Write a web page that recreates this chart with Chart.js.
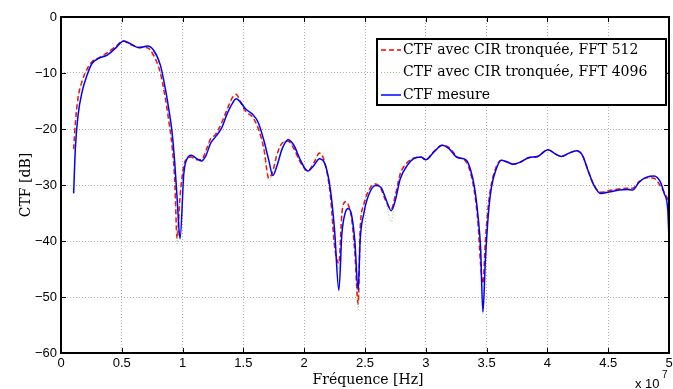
<!DOCTYPE html>
<html>
<head>
<meta charset="utf-8">
<script src="https://cdn.jsdelivr.net/npm/chart.js@4.4.0/dist/chart.umd.min.js"></script>
<style>
html, body { margin: 0; padding: 0; background: #fff; }
canvas { display: block; }
</style>
</head>
<body>
<canvas id="myChart" width="673" height="389"></canvas>
<script>
// frequences en unites de 10^7 Hz
var freqE7 = [0.104, 0.118, 0.14, 0.173, 0.214, 0.255, 0.31, 0.38, 0.447, 0.515,
    0.57, 0.64, 0.71, 0.76, 0.817, 0.858, 0.886, 0.913, 0.935, 0.955,
    0.979, 1.01, 1.037, 1.072, 1.11, 1.155, 1.193, 1.229, 1.27, 1.319,
    1.366, 1.407, 1.44, 1.476, 1.517, 1.572, 1.62, 1.668, 1.709, 1.742,
    1.777, 1.819, 1.868, 1.915, 1.97, 2.03, 2.08, 2.126, 2.175, 2.216,
    2.25, 2.285, 2.31, 2.34, 2.362, 2.39, 2.416, 2.444, 2.46, 2.49,
    2.53, 2.587, 2.63, 2.67, 2.716, 2.75, 2.79, 2.848, 2.9, 2.96,
    3.0, 3.067, 3.136, 3.19, 3.26, 3.33, 3.37, 3.404, 3.43, 3.45,
    3.47, 3.49, 3.515, 3.54, 3.575, 3.62, 3.67, 3.717, 3.78, 3.85,
    3.92, 4.005, 4.068, 4.115, 4.178, 4.24, 4.288, 4.334, 4.383, 4.438,
    4.507, 4.59, 4.658, 4.7, 4.754, 4.817, 4.877, 4.93, 4.96, 4.99, 5.0];

var ctfMesure = [-31.5, -23.5, -17.6, -13.4, -10.4, -8.3, -7.4, -6.8, -5.6, -4.3,
    -4.75, -5.5, -5.2, -5.9, -8.6, -12.8, -16.4, -20.5, -25.9, -32.4,
    -39.6, -28, -25.3, -24.7, -25.2, -25.7, -24.7, -22.6, -21.4, -19.9,
    -17.3, -15.5, -14.6, -15.2, -16.4, -17.3, -18.75, -22, -25.6, -28.3,
    -26.5, -23.5, -21.9, -22.9, -25.6, -27.5, -26.5, -25.3, -26.5, -30.9,
    -38.1, -48.8, -38.7, -34.8, -34.2, -35.4, -39.9, -48.8, -39.9, -35.1,
    -31.8, -30.1, -30.4, -32.4, -34.6, -32.7, -28.9, -26.5, -25.3, -25.0,
    -25.5, -24.1, -22.9, -23.5, -25.1, -25.5, -27.4, -30.9, -35.7, -41,
    -52.7, -43.4, -35.1, -30.4, -27.4, -25.6, -25.9, -26.3, -25.9, -25.1,
    -24.9, -23.7, -24.5, -24.9, -24.3, -23.9, -24.7, -27.4, -30.05, -31.5,
    -31.25, -30.9, -30.8, -30.9, -29.5, -28.6, -28.4, -29.5, -31.5, -34.5, -39.9];

var ctfFft512 = [-23.6, -19, -14.5, -11.5, -9.3, -8.0, -7.3, -6.4, -5.3, -4.3,
    -4.9, -5.4, -5.5, -6.8, -10, -14.5, -18.5, -23, -29, -39.5,
    -32, -26.5, -25.3, -25.0, -25.5, -25.5, -23.8, -21.8, -21.0, -19.0,
    -16.5, -14.5, -13.8, -15.2, -16.8, -17.8, -19.8, -23.5, -28.8, -27.5,
    -24.5, -22.5, -22.2, -23.5, -26, -27.5, -26, -24.3, -26.5, -32,
    -41, -44, -35, -33, -33.5, -36, -42, -51.2, -38, -33.5,
    -31, -29.8, -30.6, -32.8, -34.3, -31.8, -28, -26, -25.2, -25.0,
    -25.5, -24, -22.9, -23.3, -25.0, -25.8, -28, -31.8, -37, -44,
    -47.6, -40, -33.5, -29.8, -27, -25.6, -25.9, -26.3, -25.9, -25.1,
    -24.9, -23.7, -24.5, -24.9, -24.3, -23.9, -24.7, -27.4, -30.05, -31.3,
    -31.0, -30.7, -30.6, -30.6, -29.4, -28.7, -28.8, -30.2, -31.3, -32.5, -33];

var ctfFft4096 = [-23.6, -19, -14.5, -11.5, -9.3, -8.0, -7.3, -6.4, -5.3, -4.3,
    -4.9, -5.4, -5.5, -6.8, -10, -14.5, -18.5, -23, -29, -40.5,
    -32, -26.5, -25.3, -25.0, -25.5, -25.5, -23.8, -21.8, -21.0, -19.0,
    -16.5, -14.5, -13.8, -15.2, -16.8, -17.8, -19.8, -23.5, -29.2, -27.5,
    -24.5, -22.5, -22.2, -23.5, -26, -27.5, -26, -24.3, -26.5, -32,
    -41, -45, -35, -33, -33.5, -36, -42, -52.3, -38, -33.5,
    -31, -29.8, -30.6, -32.8, -36.6, -31.8, -28, -26, -25.2, -25.0,
    -25.5, -24, -22.9, -23.3, -25.0, -25.8, -28, -31.8, -37, -44,
    -53, -40, -33.5, -29.8, -27, -25.6, -25.9, -26.3, -25.9, -25.1,
    -24.9, -23.7, -24.5, -24.9, -24.3, -23.9, -24.7, -27.4, -30.05, -31.3,
    -31.0, -30.7, -30.6, -30.6, -29.4, -28.7, -28.8, -30.2, -31.3, -32.5, -33];

var serieLabels = ['CTF avec CIR tronquée, FFT 512', 'CTF avec CIR tronquée, FFT 4096', 'CTF mesure'];
var yTitle = 'CTF [dB]';
var xTitle = 'Fréquence [Hz]';

function toPoints(vals) {
    return freqE7.map(function (f, i) { return { x: f, y: vals[i] }; });
}

var decor = {
    id: 'decor',
    beforeDraw: function (chart) {
        var c = chart.ctx;
        c.save();
        c.fillStyle = '#fff';
        c.fillRect(0, 0, chart.width, chart.height);
        c.restore();
    },
    afterDatasetsDraw: function (chart) {
        var c = chart.ctx, a = chart.chartArea;
        var sx = chart.scales.x, sy = chart.scales.y;
        c.save();
        c.strokeStyle = '#000';
        c.lineWidth = 1;
        // petits traits vers l'interieur
        sx.ticks.forEach(function (t) {
            var px = Math.round(sx.getPixelForValue(t.value)) + 0.5;
            c.beginPath();
            c.moveTo(px, a.bottom); c.lineTo(px, a.bottom - 5);
            c.moveTo(px, a.top); c.lineTo(px, a.top + 5);
            c.stroke();
        });
        sy.ticks.forEach(function (t) {
            var py = Math.round(sy.getPixelForValue(t.value)) + 0.5;
            c.beginPath();
            c.moveTo(a.left, py); c.lineTo(a.left + 5, py);
            c.moveTo(a.right, py); c.lineTo(a.right - 5, py);
            c.stroke();
        });
        c.lineWidth = 2;
        c.strokeRect(a.left, a.top, a.right - a.left, a.bottom - a.top);
        c.restore();
    },
    afterDraw: function (chart) {
        var c = chart.ctx, a = chart.chartArea;
        c.save();
        c.fillStyle = '#000';
        c.font = '14px "DejaVu Serif", "Liberation Serif", serif';
        c.textAlign = 'center';
        c.textBaseline = 'middle';
        c.fillText(xTitle, (a.left + a.right) / 2 + 3, 380);
        c.save();
        c.translate(26, (a.top + a.bottom) / 2);
        c.rotate(-Math.PI / 2);
        c.fillText(yTitle, 0, 0);
        c.restore();

        // exposant
        c.font = '13px "Liberation Sans", Arial, sans-serif';
        c.textAlign = 'left';
        c.textBaseline = 'alphabetic';
        c.fillText('x 10', 635, 388);
        c.font = '10px "Liberation Sans", Arial, sans-serif';
        c.fillText('7', 662, 378);

        // legende
        var bx = 377, by = 39, bw = 289, bh = 66;
        c.fillStyle = '#fff';
        c.fillRect(bx, by, bw, bh);
        c.strokeStyle = '#000';
        c.lineWidth = 2;
        c.strokeRect(bx, by, bw, bh);
        var rows = [50, 72.5, 95];
        c.font = '14px "DejaVu Serif", "Liberation Serif", serif';
        c.textBaseline = 'middle';
        chart.data.datasets.forEach(function (ds, i) {
            c.save();
            c.strokeStyle = ds.borderColor;
            c.lineWidth = ds.borderWidth;
            c.setLineDash(ds.borderDash || []);
            c.beginPath();
            c.moveTo(381, rows[i]);
            c.lineTo(401, rows[i]);
            c.stroke();
            c.restore();
            c.fillStyle = '#000';
            c.fillText(ds.label, 403, rows[i]);
        });
        c.restore();
    }
};

var ctx = document.getElementById('myChart').getContext('2d');
var chart = new Chart(ctx, {
    type: 'line',
    data: {
        datasets: [{
            label: serieLabels[0],
            data: toPoints(ctfFft512),
            borderColor: '#ff0000',
            borderWidth: 1.5,
            borderDash: [5, 3],
            order: 2
        }, {
            label: serieLabels[1],
            data: toPoints(ctfFft4096),
            borderColor: 'rgba(60,170,60,0.6)',
            borderWidth: 1,
            borderDash: [1, 2],
            order: 1
        }, {
            label: serieLabels[2],
            data: toPoints(ctfMesure),
            borderColor: '#0000ff',
            borderWidth: 1.5,
            order: 0
        }]
    },
    options: {
        responsive: false,
        animation: false,
        events: [],
        elements: {
            point: { radius: 0 },
            line: { cubicInterpolationMode: 'monotone', fill: false }
        },
        layout: { padding: { left: 0, top: 17, right: 4, bottom: 0 } },
        plugins: {
            legend: { display: false },
            tooltip: { enabled: false }
        },
        scales: {
            x: {
                type: 'linear',
                min: 0,
                max: 5,
                ticks: {
                    stepSize: 0.5,
                    color: '#000',
                    padding: 3,
                    maxRotation: 0,
                    font: { family: '"Liberation Sans", Arial, sans-serif', size: 13 },
                    callback: function (v) { return '' + Math.round(v * 10) / 10; }
                },
                grid: { color: '#b0b0b0', lineWidth: 1, drawTicks: false },
                border: { display: false, dash: [1, 2] },
                afterFit: function (s) { s.height = 36; s.paddingLeft = 0; s.paddingRight = 0; }
            },
            y: {
                min: -60,
                max: 0,
                ticks: {
                    stepSize: 10,
                    color: '#000',
                    padding: 4,
                    font: { family: '"Liberation Sans", Arial, sans-serif', size: 13 },
                    callback: function (v) { return v < 0 ? '\u2212' + Math.abs(v) : '' + v; }
                },
                grid: { color: '#b0b0b0', lineWidth: 1, drawTicks: false },
                border: { display: false, dash: [1, 2] },
                afterFit: function (s) { s.width = 61; s.paddingTop = 0; s.paddingBottom = 0; }
            }
        }
    },
    plugins: [decor]
});
</script>
</body>
</html>
